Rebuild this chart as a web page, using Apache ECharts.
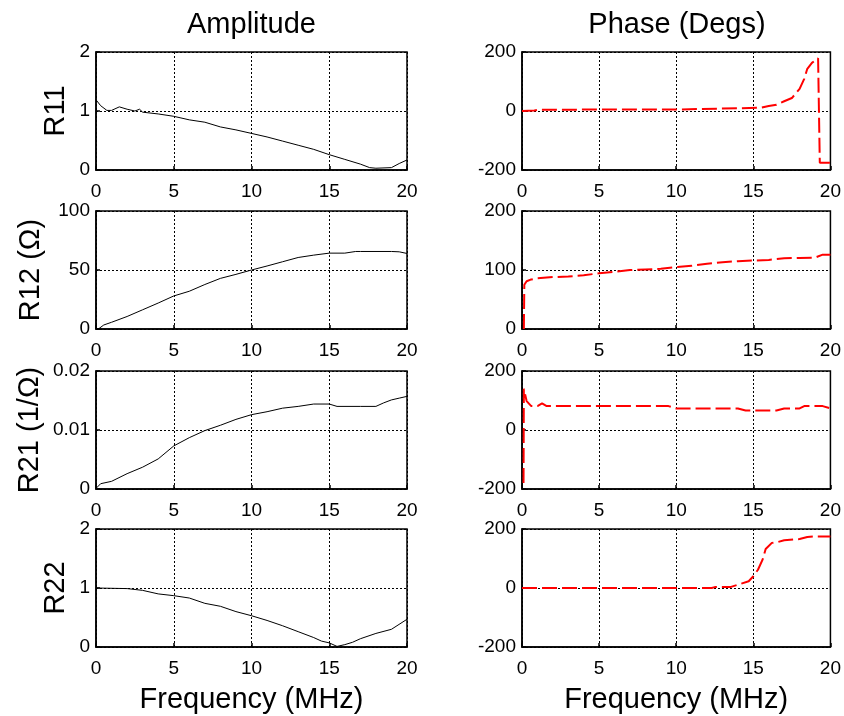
<!DOCTYPE html>
<html><head><meta charset="utf-8">
<script src="https://cdn.jsdelivr.net/npm/echarts@6/dist/echarts.min.js"></script>
<style>html,body{margin:0;padding:0;background:#fff}#c{width:844px;height:716px}</style>
</head><body><div id="c"></div>
<script>
// ---- Data (frequency in MHz) ----
const colTitles = ['Amplitude', 'Phase (Degs)'];
const rowNames = ['R11', 'R12 (\u03A9)', 'R21 (1/\u03A9)', 'R22'];
const xLabel = 'Frequency (MHz)';

const r11AmpF = [0,0.3,0.7,1.0,1.5,2.0,2.5,2.8,3,4,5,6,7,8,9,10,11,12,13,14,15,16,17,17.6,18,19,19.5,20];
const r11AmpV = [1.19,1.09,1.01,1.01,1.07,1.03,1.0,1.03,0.98,0.95,0.91,0.85,0.81,0.73,0.68,0.62,0.56,0.49,0.42,0.35,0.26,0.18,0.10,0.04,0.03,0.04,0.11,0.17];

const r11PhF = [0,0.8,1,5,10,10.1,15.5,16,16.5,17,17.5,18,18.3,18.5,18.8,19.2,19.3,19.31,20];
const r11PhV = [0,2,4,5,5,11,11,17,21,33,44,75,109,143,163,179,182,-175,-175];

const r12AmpF = [0,0.2,0.5,1,2,3,4,5,6,7,8,9,10,11,12,13,14,15,16,16.7,17,19,19.5,20];
const r12AmpV = [0,0.5,3.4,5.7,10.6,16.3,22,28,32,37.7,42.9,46.3,50,53.4,57,60.6,62.6,64.3,64.3,65.7,65.7,65.7,65.4,64];

const r12PhF = [0.12,0.15,0.3,0.6,1,2,3,4,5,6,7,8,9,10,11,12,13,14,15,16,17,18,19,19.5,20];
const r12PhV = [0,75,81,84,86,88,89,91,94.5,97,100,101,102,105,107,110.7,113,115,116,117,120,120.5,121,126,126];

const r21AmpF = [0,0.3,1,2,3,4,5,6,7,8,9,10,11,12,13,14,15,15.5,17,18,18.5,19,19.5,20];
const r21AmpV = [0.0001,0.0009,0.0013,0.0026,0.0037,0.0051,0.0073,0.0087,0.0099,0.0108,0.0118,0.0126,0.0131,0.0137,0.014,0.0144,0.0144,0.014,0.014,0.014,0.0146,0.0151,0.0154,0.0157];

const r21PhF = [0.1,0.12,0.3,0.6,1,1.3,1.6,5,9.5,10,14,14.5,16.5,17,18,18.3,19.5,20];
const r21PhV = [-180,140,98,81,81,90,81,81,81,73,73,66,66,73,73,81,81,73];

const r22AmpF = [0,2,3,4,5,6,7,8,9,10,11,12,13,14,14.5,15,15.5,16,16.5,17,18,19,20];
const r22AmpV = [1.0,0.99,0.96,0.90,0.87,0.83,0.74,0.69,0.60,0.53,0.45,0.36,0.26,0.16,0.10,0.07,0.01,0.04,0.08,0.14,0.23,0.30,0.47];

const r22PhF = [0,12.3,12.5,13.5,14,14.7,15,15.3,15.6,15.8,16.2,16.6,17,18,18.5,19,20];
const r22PhV = [0,0,3,3,11,23,40,62,96,132,153,156,162,166,173,175,175];

const yRanges = [
  [[0,2,1],[-200,200,200]],
  [[0,100,50],[0,200,100]],
  [[0,0.02,0.01],[-200,200,200]],
  [[0,2,1],[-200,200,200]]
];

const seriesData = [
  [[r11AmpF, r11AmpV],[r11PhF, r11PhV]],
  [[r12AmpF, r12AmpV],[r12PhF, r12PhV]],
  [[r21AmpF, r21AmpV],[r21PhF, r21PhV]],
  [[r22AmpF, r22AmpV],[r22PhF, r22PhV]]
];

// ---- Layout ----
const FONT = 'Liberation Sans, Arial, Helvetica, sans-serif';
const colLeft = [96, 522];
const colWidth = [311, 310];
const rowTop = [52, 211, 371, 529];
const rowH = 118;
const nameGaps = [26, 51, 52, 26];
const BIG = 29;

const zip = (a, b) => a.map((v, i) => [v, b[i]]);

const grids = [], xAxes = [], yAxes = [], series = [];
let idx = 0;
for (let r = 0; r < 4; r++) {
  for (let c = 0; c < 2; c++) {
    grids.push({
      left: colLeft[c], top: rowTop[r], width: colWidth[c], height: rowH,
      show: true, borderColor: '#000', borderWidth: 1.5, backgroundColor: '#fff'
    });
    xAxes.push({
      type: 'value', gridIndex: idx, min: 0, max: 20, interval: 5,
      axisLine: { show: true, onZero: false, lineStyle: { color: '#000', width: 1.5 } },
      axisTick: { show: true, inside: true, length: 4, lineStyle: { color: '#000', width: 1.5 } },
      axisLabel: { color: '#000', fontSize: 19, fontFamily: FONT, margin: 12, showMinLabel: true, showMaxLabel: true },
      splitLine: { show: true, lineStyle: { color: '#000', width: 1, type: [2, 2] } },
      name: r === 3 ? xLabel : '', nameLocation: 'middle', nameGap: 38,
      nameTextStyle: { color: '#000', fontSize: BIG, fontFamily: FONT }
    });
    const yr = yRanges[r][c];
    yAxes.push({
      type: 'value', gridIndex: idx, min: yr[0], max: yr[1], interval: yr[2],
      axisLine: { show: true, onZero: false, lineStyle: { color: '#000', width: 1.5 } },
      axisTick: { show: true, inside: true, length: 4, lineStyle: { color: '#000', width: 1.5 } },
      axisLabel: { color: '#000', fontSize: 19, fontFamily: FONT, margin: 6, showMinLabel: true, showMaxLabel: true },
      splitLine: { show: true, lineStyle: { color: '#000', width: 1, type: [2, 2] } },
      name: c === 0 ? rowNames[r] : '', nameLocation: 'middle', nameGap: nameGaps[r],
      nameTextStyle: { color: '#000', fontSize: BIG, fontFamily: FONT }
    });
    const d = seriesData[r][c];
    series.push({
      type: 'line', xAxisIndex: idx, yAxisIndex: idx,
      data: zip(d[0], d[1]), symbol: 'none', animation: false,
      lineStyle: c === 0 ? { color: '#000', width: 1 } : { color: '#ff0000', width: 2, type: [15, 5] }
    });
    idx++;
  }
}

const chart = echarts.init(document.getElementById('c'), null, { renderer: 'canvas' });
chart.setOption({
  animation: false,
  backgroundColor: '#fff',
  grid: grids, xAxis: xAxes, yAxis: yAxes, series: series,
  graphic: colTitles.map((t, c) => ({
    type: 'text', x: colLeft[c] + colWidth[c] / 2, y: 10,
    style: { text: t, fill: '#000', fontSize: BIG, fontFamily: FONT, textAlign: 'center', textVerticalAlign: 'top' }
  }))
});
</script>
</body></html>
